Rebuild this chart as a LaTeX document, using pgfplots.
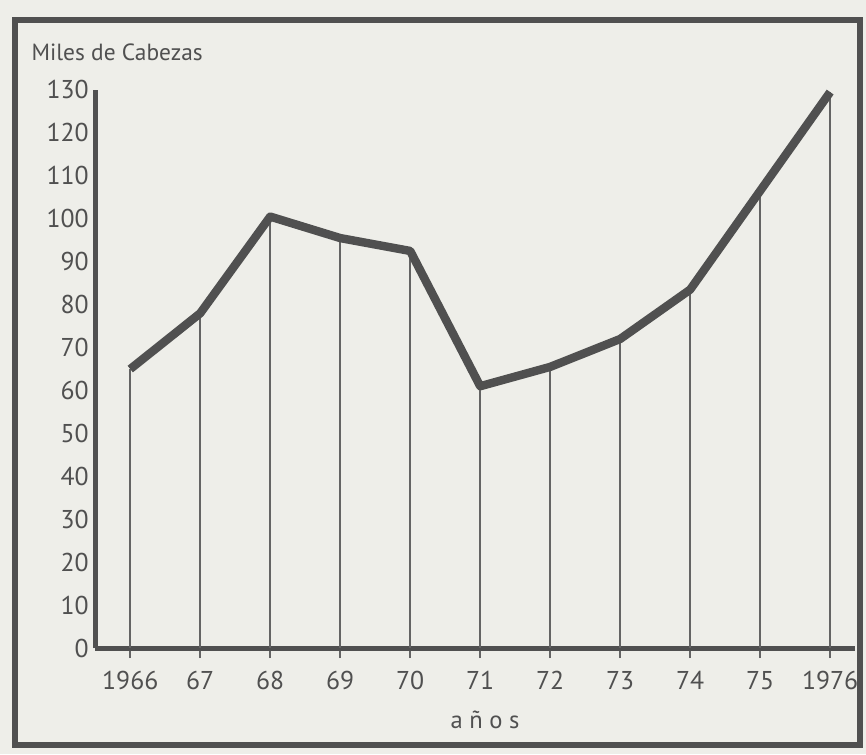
\documentclass[border=0pt]{standalone}
\usepackage{fontspec}
\setmainfont{PT Sans}
\usepackage{pgfplots}
\pgfplotsset{compat=1.18}
\usepackage{pgfplotstable}

\definecolor{paper}{RGB}{238,238,233}
\definecolor{ink}{RGB}{80,80,80}
\definecolor{combgray}{RGB}{100,100,100}

\pgfplotstableread{
year cabezas
1966 65
1967 78
1968 100.5
1969 95.5
1970 92.5
1971 61
1972 65.5
1973 72
1974 83.5
1975 106.5
1976 129.5
}\cabezas

\begin{document}
\begin{tikzpicture}
\fill[paper] (-1.43,-1.59) rectangle (11.57,9.73);
\draw[ink, line width=2.6pt] (-1.20,-1.46) rectangle (11.48,9.43);
\begin{axis}[
  at={(0,0)}, anchor=south west,
  scale only axis,
  width=11.41cm, height=8.38cm,
  xmin=1965.5, xmax=1976.36,
  ymin=0, ymax=130,
  axis x line*=bottom,
  axis y line*=left,
  axis line style={ink, line width=2pt},
  xtick={1966,...,1976},
  xticklabels={1966,67,68,69,70,71,72,73,74,75,1976},
  ytick={0,10,...,130},
  tick align=outside,
  xtick style={combgray, line width=0.8pt},
  major tick length=0.15cm,
  ytick style={draw=none},
  tick label style={font=\fontsize{11}{12}\selectfont, text=ink},
  xticklabel style={yshift=-2pt},
  yticklabel style={xshift=5pt},
  /pgf/number format/assume math mode=true,
  clip=false,
]
\addplot[ycomb, combgray, line width=0.8pt, mark=none] table[x=year, y=cabezas] {\cabezas};
\addplot[ink, line width=3.6pt, line join=round, mark=none] table[x=year, y=cabezas] {\cabezas};
\end{axis}
\node[anchor=west, text=ink, font=\fontsize{10}{12}\selectfont] at (-1.08,8.95) {Miles de Cabezas};
\node[text=ink, font=\fontsize{10.5}{12}\selectfont] at (5.85,-1.08) {a ñ o s};
\end{tikzpicture}
\end{document}
